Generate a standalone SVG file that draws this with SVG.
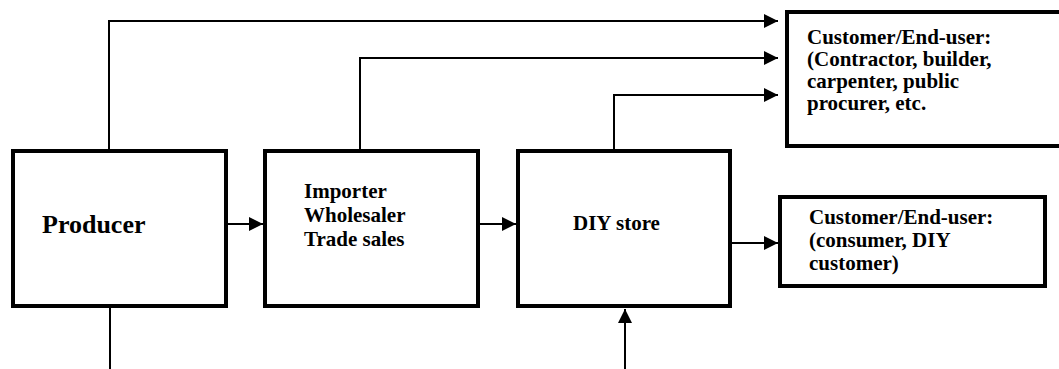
<svg xmlns="http://www.w3.org/2000/svg" width="1059" height="369" viewBox="0 0 1059 369">
<style>
.box{fill:#fff;stroke:#000;stroke-width:4}
.ln{fill:none;stroke:#000;stroke-width:2}
.t{font-family:"Liberation Serif","Times New Roman",serif;font-weight:bold;font-size:21px;fill:#000}
.big{font-size:26px}
</style>
<defs>
<marker id="ah" markerUnits="userSpaceOnUse" markerWidth="14" markerHeight="14" refX="14" refY="7" orient="auto">
<path d="M0,0 L14,7 L0,14 z" fill="#000"/>
</marker>
</defs>
<rect width="1059" height="369" fill="#fff"/>
<g id="connectors">
<path class="ln" d="M109,149 V21 H778" marker-end="url(#ah)"/>
<path class="ln" d="M360,149 V58 H778" marker-end="url(#ah)"/>
<path class="ln" d="M614,149 V95 H778" marker-end="url(#ah)"/>
<path class="ln" d="M228,224 H263" marker-end="url(#ah)"/>
<path class="ln" d="M480,224 H516" marker-end="url(#ah)"/>
<path class="ln" d="M732,243 H778" marker-end="url(#ah)"/>
<path class="ln" d="M110,308 V369"/>
<path class="ln" d="M625,369 V309" marker-end="url(#ah)"/>
</g>
<g id="producer">
<rect class="box" x="13" y="151" width="213" height="155"/>
<text class="t big" x="42" y="233">Producer</text>
</g>
<g id="importer">
<rect class="box" x="265" y="151" width="213" height="155"/>
<text class="t" x="304" y="198">Importer</text>
<text class="t" x="304" y="222">Wholesaler</text>
<text class="t" x="304" y="246">Trade sales</text>
</g>
<g id="diy">
<rect class="box" x="518" y="151" width="212" height="155"/>
<text class="t" x="573" y="230">DIY store</text>
</g>
<g id="customer-pro">
<rect class="box" x="787" y="12" width="300" height="134"/>
<text class="t" x="807" y="44">Customer/End-user:</text>
<text class="t" x="807" y="66">(Contractor, builder,</text>
<text class="t" x="807" y="88">carpenter, public</text>
<text class="t" x="807" y="110">procurer, etc.</text>
</g>
<g id="customer-diy">
<rect class="box" x="780" y="197" width="265" height="89"/>
<text class="t" x="809" y="224">Customer/End-user:</text>
<text class="t" x="809" y="247">(consumer, DIY</text>
<text class="t" x="809" y="270">customer)</text>
</g>
</svg>
